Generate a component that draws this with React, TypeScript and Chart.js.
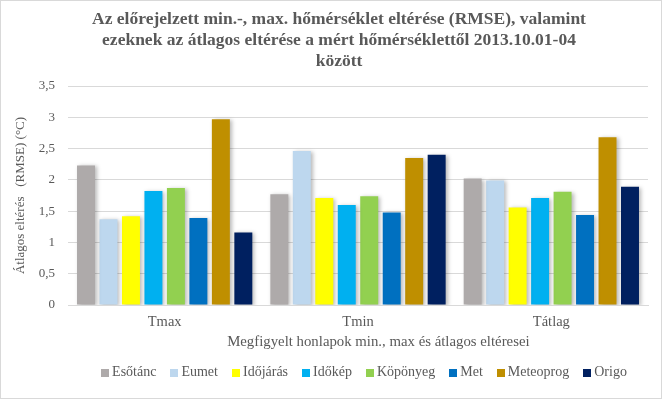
import React, { useEffect, useRef } from "react";
import { Chart, registerables } from "chart.js";

Chart.register(...registerables);

const categories = ["Tmax", "Tmin", "Tátlag"];
const seriesNames = ["Esőtánc", "Eumet", "Időjárás", "Időkép", "Köpönyeg", "Met", "Meteoprog", "Origo"];
const colors = ["#AEAAAA", "#BDD7EE", "#FFFF00", "#00B0F0", "#92D050", "#0070C0", "#BF8F00", "#002060"];
const esotanc = [2.23, 1.77, 2.02];
const eumet = [1.37, 2.46, 1.99];
const idojaras = [1.42, 1.71, 1.56];
const idokep = [1.82, 1.6, 1.71];
const koponyeg = [1.87, 1.74, 1.81];
const met = [1.39, 1.48, 1.44];
const meteoprog = [2.97, 2.35, 2.68];
const origo = [1.16, 2.4, 1.89];
const seriesValues = [esotanc, eumet, idojaras, idokep, koponyeg, met, meteoprog, origo];

const titleLines = [
  "Az előrejelzett min.-, max. hőmérséklet eltérése (RMSE), valamint",
  "ezeknek az átlagos eltérése a mért hőmérséklettől 2013.10.01-04",
  "között",
];

const FONT = "'Liberation Serif', 'Times New Roman', serif";

const shadowPlugin = {
  id: "barShadow",
  beforeDatasetsDraw(chart: any) {
    const ctx = chart.ctx;
    ctx.save();
    ctx.shadowColor = "rgba(0,0,0,0.28)";
    ctx.shadowBlur = 4;
    ctx.shadowOffsetX = 2;
    ctx.shadowOffsetY = 1;
  },
  afterDatasetsDraw(chart: any) {
    chart.ctx.restore();
  },
};

const legendPlugin = {
  id: "customLegend",
  afterDraw(chart: any) {
    const ctx = chart.ctx;
    ctx.save();
    ctx.font = "14px " + FONT;
    ctx.textBaseline = "middle";
    ctx.textAlign = "left";
    const box = 8;
    const gap = 3;
    const spacing = 14;
    const items = chart.data.datasets.map((d: any) => ({
      label: d.label,
      color: d.backgroundColor,
      w: ctx.measureText(d.label).width,
    }));
    const total =
      items.reduce((s: number, it: any) => s + box + gap + it.w, 0) + spacing * (items.length - 1);
    const ca = chart.chartArea;
    let x = (ca.left + ca.right) / 2 + 6 - total / 2;
    const y = chart.height - 26.5;
    items.forEach((it: any) => {
      ctx.fillStyle = it.color;
      ctx.fillRect(Math.round(x), Math.round(y - 4), box, box);
      ctx.fillStyle = "#595959";
      ctx.fillText(it.label, x + box + gap, y);
      x += box + gap + it.w + spacing;
    });
    ctx.restore();
  },
};

const borderPlugin = {
  id: "outerBorder",
  afterDraw(chart: any) {
    const ctx = chart.ctx;
    ctx.save();
    ctx.strokeStyle = "#D9D9D9";
    ctx.lineWidth = 1;
    ctx.strokeRect(0.5, 0.5, chart.width - 1, chart.height - 1);
    ctx.restore();
  },
};

export default function App() {
  const ref = useRef<HTMLCanvasElement>(null);
  useEffect(() => {
    document.body.style.margin = "0";
    const chart = new Chart(ref.current!, {
      type: "bar",
      data: {
        labels: categories,
        datasets: seriesNames.map((name, i) => ({
          label: name,
          data: seriesValues[i],
          backgroundColor: colors[i],
          borderWidth: 0,
          categoryPercentage: 0.93,
          barPercentage: 0.8,
        })),
      },
      options: {
        animation: false,
        responsive: false,
        maintainAspectRatio: false,
        layout: { padding: { left: 30, right: 14, top: 4, bottom: 0 } },
        plugins: {
          title: {
            display: true,
            text: titleLines,
            color: "#595959",
            font: { family: FONT, size: 17.5, weight: "bold", lineHeight: 1.2 },
            padding: { top: 5, bottom: 14 },
          },
          legend: { display: false },
          tooltip: { enabled: false },
        },
        scales: {
          x: {
            grid: { display: false, drawTicks: false },
            border: { display: true, color: "#D9D9D9" },
            ticks: { color: "#595959", font: { family: FONT, size: 14.5 }, padding: 8 },
            title: {
              display: true,
              text: "\u00A0".repeat(11) + "Megfigyelt honlapok min., max és átlagos eltéresei",
              color: "#595959",
              font: { family: FONT, size: 14.8 },
              padding: { top: 0, bottom: 48 },
            },
            afterFit: (scale: any) => {
              scale.height = 94;
            },
          },
          y: {
            min: 0,
            max: 3.5,
            grid: { color: "#D9D9D9", drawTicks: false },
            border: { display: false },
            ticks: {
              stepSize: 0.5,
              color: "#595959",
              font: { family: FONT, size: 13 },
              padding: 13,
              callback: (v: any) => String(v).replace(".", ","),
            },
            title: {
              display: true,
              text: "Átlagos eltérés   (RMSE) (°C)",
              color: "#595959",
              font: { family: FONT, size: 13 },
              padding: { top: -16.8, bottom: 0 },
            },
            afterFit: (scale: any) => {
              scale.width = 38;
            },
          },
        },
      },
      plugins: [shadowPlugin, legendPlugin, borderPlugin],
    });
    return () => chart.destroy();
  }, []);
  return <canvas ref={ref} width={662} height={399} style={{ display: "block" }} />;
}
